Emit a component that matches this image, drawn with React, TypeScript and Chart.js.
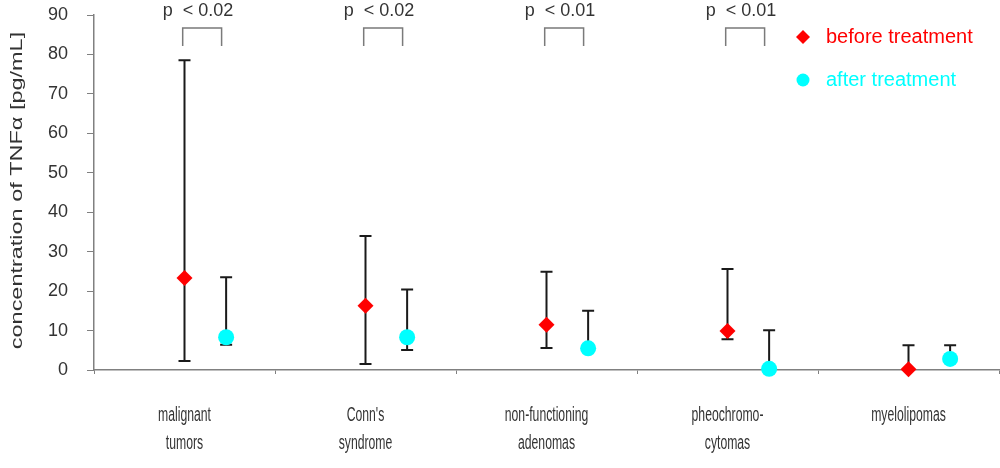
import React, { useEffect, useRef } from 'react';
import { Chart, registerables } from 'chart.js';

Chart.register(...registerables);

// ---- data ----
const categories: string[][] = [
  ['malignant', 'tumors'],
  ["Conn's", 'syndrome'],
  ['non-functioning', 'adenomas'],
  ['pheochromo-', 'cytomas'],
  ['myelolipomas'],
];
const beforeValues = [23.3, 16.3, 11.5, 9.9, 0.2];
const beforeLow = [2.3, 1.5, 5.6, 7.8, 0.2];
const beforeHigh = [78.5, 34.0, 24.9, 25.6, 6.3];
const afterValues = [8.3, 8.3, 5.5, 0.3, 2.8];
const afterLow = [6.4, 5.1, 5.5, 0.3, 2.8];
const afterHigh = [23.5, 20.4, 15.0, 10.1, 6.3];
const pValues = ['< 0.02', '< 0.02', '< 0.01', '< 0.01', ''];
const seriesNames = ['before treatment', 'after treatment'];
const yMin = 0;
const yMax = 90;
const yStep = 10;
const yTitle = 'concentration of TNF\u03b1 [pg/mL]';

// ---- styling / layout constants ----
const AFTER_OFFSET = 0.23;
const RED = '#ff0000';
const CYAN = '#00ffff';
const TEXT = '#333333';
const FONT = "'Liberation Sans', Arial, sans-serif";

const errorBarPlugin = {
  id: 'errorBars',
  beforeDatasetsDraw(chart: any) {
    const ctx = chart.ctx;
    const xs = chart.scales.x2;
    const ys = chart.scales.y;
    ctx.save();
    ctx.strokeStyle = '#1a1a1a';
    ctx.lineWidth = 2;
    const cap = 6;
    const draw = (xv: number, v: number, lo: number, hi: number) => {
      const px = xs.getPixelForValue(xv);
      const pLo = ys.getPixelForValue(lo);
      const pHi = ys.getPixelForValue(hi);
      ctx.beginPath();
      ctx.moveTo(px, pLo);
      ctx.lineTo(px, pHi);
      ctx.moveTo(px - cap, pHi);
      ctx.lineTo(px + cap, pHi);
      if (lo < v) {
        ctx.moveTo(px - cap, pLo);
        ctx.lineTo(px + cap, pLo);
      }
      ctx.stroke();
    };
    categories.forEach((_, i) => {
      draw(i, beforeValues[i], beforeLow[i], beforeHigh[i]);
      draw(i + AFTER_OFFSET, afterValues[i], afterLow[i], afterHigh[i]);
    });
    ctx.restore();
  },
  afterDraw(chart: any) {
    const ctx = chart.ctx;
    const xs = chart.scales.x2;
    const ys = chart.scales.y;
    const area = chart.chartArea;
    ctx.save();
    // x category labels (condensed, as in the source figure)
    ctx.fillStyle = TEXT;
    ctx.font = `20px ${FONT}`;
    ctx.textAlign = 'center';
    ctx.textBaseline = 'middle';
    categories.forEach((lines, i) => {
      const px = xs.getPixelForValue(i);
      lines.forEach((line, j) => {
        ctx.save();
        ctx.translate(px, area.bottom + 45 + j * 28);
        ctx.scale(0.61, 1);
        ctx.fillText(line, 0, 0);
        ctx.restore();
      });
    });
    // y axis title (stretched along its length, as in the source figure)
    ctx.save();
    ctx.translate(17, (ys.top + ys.bottom) / 2 - 2);
    ctx.rotate(-Math.PI / 2);
    ctx.scale(1.38, 1);
    ctx.font = `17px ${FONT}`;
    ctx.fillStyle = TEXT;
    ctx.textAlign = 'center';
    ctx.textBaseline = 'middle';
    ctx.fillText(yTitle, 0, 0);
    ctx.restore();
    // significance brackets
    pValues.forEach((p, i) => {
      if (!p) return;
      const l = xs.getPixelForValue(i - 0.01);
      const r = xs.getPixelForValue(i + 0.205);
      ctx.strokeStyle = '#7a7a7a';
      ctx.lineWidth = 1.5;
      ctx.beginPath();
      ctx.moveTo(l, 46);
      ctx.lineTo(l, 28);
      ctx.lineTo(r, 28);
      ctx.lineTo(r, 46);
      ctx.stroke();
      ctx.fillStyle = TEXT;
      ctx.font = `18px ${FONT}`;
      ctx.textAlign = 'left';
      ctx.textBaseline = 'middle';
      ctx.fillText('p  ' + p, l - 20, 11);
    });
    // legend
    const lx = 803;
    const ly1 = 37;
    const ly2 = 80;
    ctx.fillStyle = RED;
    ctx.beginPath();
    ctx.moveTo(lx, ly1 - 7);
    ctx.lineTo(lx + 7, ly1);
    ctx.lineTo(lx, ly1 + 7);
    ctx.lineTo(lx - 7, ly1);
    ctx.closePath();
    ctx.fill();
    ctx.fillStyle = CYAN;
    ctx.beginPath();
    ctx.arc(lx, ly2, 6.5, 0, Math.PI * 2);
    ctx.fill();
    ctx.font = `20px ${FONT}`;
    ctx.textAlign = 'left';
    ctx.textBaseline = 'middle';
    ctx.fillStyle = RED;
    ctx.fillText(seriesNames[0], 826, ly1);
    ctx.fillStyle = CYAN;
    ctx.fillText(seriesNames[1], 826, ly2);
    ctx.restore();
  },
};

export default function App() {
  const canvasRef = useRef<HTMLCanvasElement | null>(null);

  useEffect(() => {
    if (!canvasRef.current) return;
    const chart = new Chart(canvasRef.current, {
      type: 'scatter',
      data: {
        labels: categories as any,
        datasets: [
          {
            label: seriesNames[0],
            data: beforeValues.map((v, i) => ({ x: i, y: v })),
            xAxisID: 'x2',
            yAxisID: 'y',
            pointStyle: 'rectRot',
            pointRadius: 8,
            pointHoverRadius: 8,
            backgroundColor: RED,
            borderColor: RED,
            borderWidth: 0,
            clip: false as any,
          },
          {
            label: seriesNames[1],
            data: afterValues.map((v, i) => ({ x: i + AFTER_OFFSET, y: v })),
            xAxisID: 'x2',
            yAxisID: 'y',
            pointStyle: 'circle',
            pointRadius: 8,
            pointHoverRadius: 8,
            backgroundColor: CYAN,
            borderColor: CYAN,
            borderWidth: 0,
            clip: false as any,
          },
        ],
      },
      options: {
        responsive: false,
        animation: false,
        layout: { autoPadding: false, padding: { top: 15, right: 1, left: 0, bottom: 0 } },
        plugins: {
          legend: { display: false },
          tooltip: { enabled: false },
        },
        scales: {
          x: {
            type: 'category',
            position: 'bottom',
            offset: true,
            grid: {
              offset: true,
              drawOnChartArea: false,
              color: '#808080',
              tickLength: 4,
            },
            border: { color: '#808080', width: 1.5 },
            ticks: { display: false },
            afterFit(scale: any) {
              scale.height = 98;
              scale.paddingLeft = 0;
              scale.paddingRight = 0;
            },
          },
          x2: {
            type: 'linear',
            display: false,
            min: -0.5,
            max: 4.5,
          },
          y: {
            type: 'linear',
            min: yMin,
            max: yMax,
            ticks: {
              stepSize: yStep,
              color: TEXT,
              padding: 19,
              font: { family: FONT, size: 18 },
            },
            grid: {
              drawOnChartArea: false,
              color: '#808080',
              tickLength: 7,
            },
            border: { color: '#808080', width: 1.5 },
            afterFit(scale: any) {
              scale.width = 94;
              scale.paddingTop = 0;
              scale.paddingBottom = 0;
            },
          },
        },
      },
      plugins: [errorBarPlugin],
    });
    return () => chart.destroy();
  }, []);

  return (
    <div style={{ position: 'fixed', left: 0, top: 0, width: 1000, height: 468, background: '#fff' }}>
      <canvas ref={canvasRef} width={1000} height={468} style={{ width: 1000, height: 468, display: 'block' }} />
    </div>
  );
}
